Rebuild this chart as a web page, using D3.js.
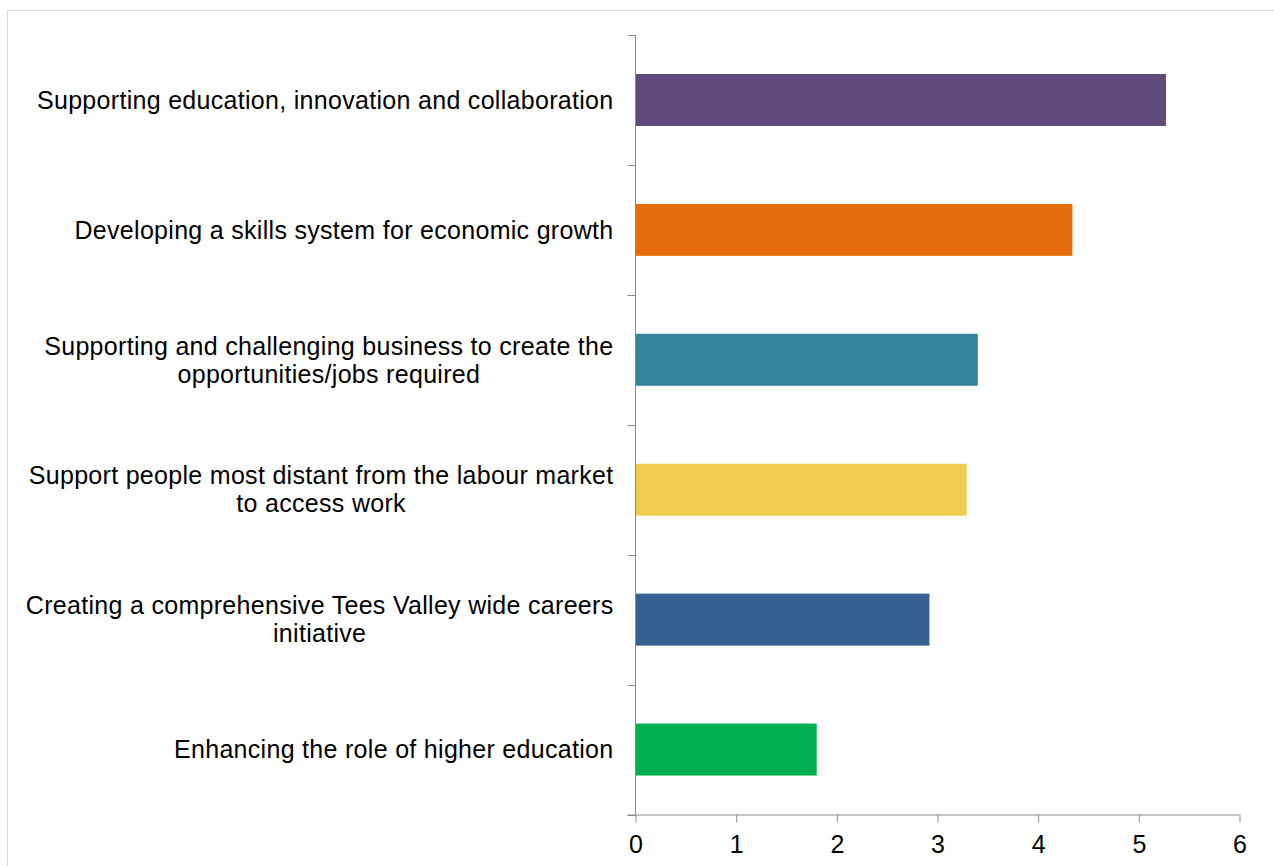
<!DOCTYPE html>
<html>
<head>
<meta charset="utf-8">
<script src="https://cdn.jsdelivr.net/npm/d3@7"></script>
<style>
  html, body { margin: 0; padding: 0; background: #fff; }
  svg { display: block; }
  text { font-family: "Liberation Sans", Arial, sans-serif; fill: #000; }
</style>
</head>
<body>
<svg id="chart" width="1274" height="866"></svg>
<script>
// Priority themes (top to bottom) and their scores
const categories = [
  ["Supporting education, innovation and collaboration"],
  ["Developing a skills system for economic growth"],
  ["Supporting and challenging business to create the", "opportunities/jobs required"],
  ["Support people most distant from the labour market", "to access work"],
  ["Creating a comprehensive Tees Valley wide careers", "initiative"],
  ["Enhancing the role of higher education"]
];
const values = [5.27, 4.34, 3.40, 3.29, 2.92, 1.80];
const barColors = ["#604a7b", "#e46c0a", "#31849b", "#f0cc4e", "#376092", "#00b050"];
const xTicks = [0, 1, 2, 3, 4, 5, 6];

const svg = d3.select("#chart");
const plotLeft = 635.5, plotRight = 1239.5, plotTop = 35, plotBottom = 814.5;
const axisColor = "#8c8c8c";

// outer frame
svg.append("rect")
  .attr("x", 7.5).attr("y", 10.5)
  .attr("width", 1300).attr("height", 900)
  .attr("fill", "none").attr("stroke", "#d9d9d9").attr("stroke-width", 1);

const x = d3.scaleLinear().domain([0, 6]).range([plotLeft, plotRight]);
const y = d3.scaleBand()
  .domain(d3.range(categories.length))
  .range([plotTop, plotBottom])
  .paddingInner(0.6)
  .paddingOuter(0.3);

// bars
svg.append("g").selectAll("rect")
  .data(values)
  .join("rect")
  .attr("x", x(0))
  .attr("y", (d, i) => y(i))
  .attr("width", d => x(d) - x(0))
  .attr("height", y.bandwidth())
  .attr("fill", (d, i) => barColors[i]);

// x axis
const xAxis = svg.append("g")
  .attr("transform", `translate(0,${plotBottom})`)
  .call(d3.axisBottom(x).tickValues(xTicks).tickFormat(d3.format("d")).tickSize(8).tickPadding(13).tickSizeOuter(0));
xAxis.select(".domain").attr("stroke", axisColor).attr("d", `M${plotLeft - 8},0.5H${plotRight}`);
xAxis.selectAll(".tick line").attr("stroke", axisColor);
xAxis.selectAll(".tick text").attr("font-size", 25).attr("fill", "#000");

// y axis: line with ticks at band boundaries
const boundaries = d3.range(categories.length + 1).map(i => plotTop + i * (plotBottom - plotTop) / categories.length);
const yAxis = svg.append("g");
yAxis.append("line")
  .attr("x1", plotLeft).attr("x2", plotLeft)
  .attr("y1", plotTop).attr("y2", plotBottom)
  .attr("stroke", axisColor);
yAxis.selectAll("line.tk")
  .data(boundaries)
  .join("line")
  .attr("class", "tk")
  .attr("x1", plotLeft - 8).attr("x2", plotLeft)
  .attr("y1", d => Math.round(d) + 0.5).attr("y2", d => Math.round(d) + 0.5)
  .attr("stroke", axisColor);

// category labels
const lineH = 28;
const labels = svg.append("g").selectAll("text")
  .data(categories)
  .join("text")
  .attr("text-anchor", "middle")
  .attr("font-size", 25)
  .attr("letter-spacing", 0.3);

labels.each(function(lines, i) {
  const t = d3.select(this);
  const cy = y(i) + y.bandwidth() / 2;
  // measure widest line to right-align the block while centring lines
  const temp = t.append("tspan");
  const w = d3.max(lines.map(l => { temp.text(l); return temp.node().getComputedTextLength(); }));
  temp.remove();
  const cx = plotLeft - 22 - w / 2;
  lines.forEach((l, k) => {
    t.append("tspan")
      .attr("x", cx)
      .attr("y", cy + (k - (lines.length - 1) / 2) * lineH)
      .attr("dy", "0.35em")
      .text(l);
  });
});
</script>
</body>
</html>
